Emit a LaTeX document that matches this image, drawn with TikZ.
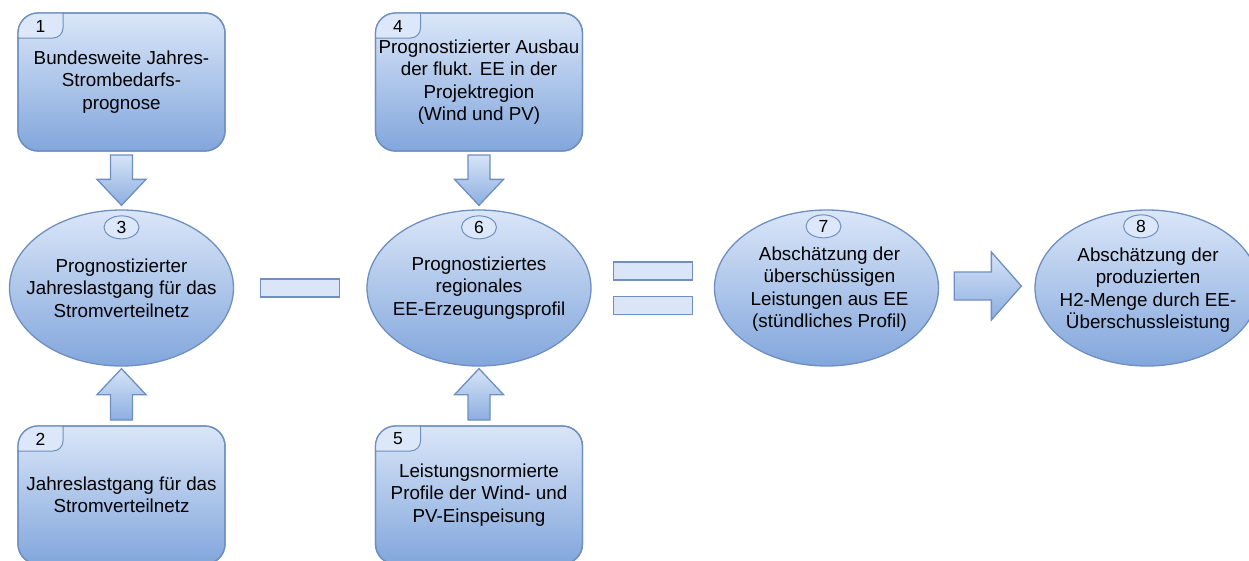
\documentclass[tikz,border=0pt]{standalone}
\usepackage{fontspec}
\setmainfont{Liberation Sans}
\usetikzlibrary{calc,shapes.geometric}
\definecolor{bord}{HTML}{6E8FC0}
\definecolor{gtop}{HTML}{DAE6F8}
\definecolor{gbot}{HTML}{82A6DC}
\definecolor{atop}{HTML}{D6E4F7}
\definecolor{abot}{HTML}{8CAEE0}
\definecolor{tabf}{HTML}{DCE8FA}
\definecolor{barf}{HTML}{DAE6F8}
\newcommand\mainfs{\fontsize{18.8}{22.4}\selectfont}
\newcommand\numfs{\fontsize{17.5}{20}\selectfont}
\newcommand\mytab[2]{%
  \begin{scope}
    \clip[rounded corners=20pt] (#1.north west) rectangle (#1.south east);
    \fill[tabf, rounded corners=10pt] ($(#1.north west)+(-5,25)$) -- ($(#1.north west)+(45,25)$) -- ($(#1.north west)+(45,-5)$) -- ($(#1.north west)+(-5,-5)$) -- cycle;
  \end{scope}
  \draw[bord, line width=1pt, rounded corners=10pt] ($(#1.north west)+(0,25)$) -- ($(#1.north west)+(45,25)$) -- ($(#1.north west)+(45,0)$);
  \draw[bord, line width=1.3pt, rounded corners=20pt] (#1.north west) rectangle (#1.south east);
  \node[font=\numfs, inner sep=0] (#1n) at ($(#1.north west)+(22.5,13)$) {#2};
}
\newcommand\vblock[3]{%
  \shade[arrowsty] let \p1=(#1), \p2=(#2) in
    (\x1-11pt,\y1) -- (\x1+11pt,\y1) -- (\x1+11pt,{\y2+(#3)}) -- (\x1+24.5pt,{\y2+(#3)}) -- (\x1,\y2) -- (\x1-24.5pt,{\y2+(#3)}) -- (\x1-11pt,{\y2+(#3)}) -- cycle;
}
\newcommand\hblock[2]{%
  \shade[arrowsty] let \p1=(#1), \p2=(#2) in
    (\x1,\y1+14pt) -- (\x2-30pt,\y1+14pt) -- (\x2-30pt,\y1+34pt) -- (\x2,\y1) -- (\x2-30pt,\y1-34pt) -- (\x2-30pt,\y1-14pt) -- (\x1,\y1-14pt) -- cycle;
}
\begin{document}
\begin{tikzpicture}[x=1pt,y=-1pt,
  boxsty/.style={rectangle, draw=bord, line width=1.3pt, rounded corners=20pt, outer sep=0pt,
    minimum width=207pt, minimum height=138pt, top color=gtop, bottom color=gbot,
    align=center, inner sep=1pt, font=\mainfs},
  ellsty/.style={ellipse, draw=bord, line width=1.3pt, minimum width=224pt, minimum height=156pt,
    inner sep=0pt, top color=gtop, bottom color=gbot},
  numsty/.style={ellipse, draw=bord, line width=1pt, fill=tabf, minimum width=35pt,
    minimum height=23pt, inner sep=0pt, font=\numfs},
  txtsty/.style={align=center, inner sep=0pt, font=\mainfs},
  barsty/.style={rectangle, draw=bord, line width=1.3pt, fill=barf, minimum width=79pt,
    minimum height=18pt, inner sep=0pt},
  arrowsty/.style={draw=bord, line width=1.3pt, line join=miter, top color=atop, bottom color=abot}]
\useasboundingbox (0,0) rectangle (1249,560);

% boxes
\node[boxsty] (b1) at (121.5,82) {Bundesweite Jahres-\\Strombedarfs-\\prognose};
\node[boxsty] (b2) at (121.5,495) {Jahreslastgang für das\\Stromverteilnetz};
\node[boxsty] (b4) at (479,82) {Prognostizierter Ausbau\\der flukt. EE in der\\Projektregion\\(Wind und PV)};
\node[boxsty] (b5) at (479,495) {Leistungsnormierte\\Profile der Wind- und\\PV-Einspeisung};
\mytab{b1}{1}
\mytab{b2}{2}
\mytab{b4}{4}
\mytab{b5}{5}

% ellipses
\node[ellsty] (e3) at (121.5,288) {};
\node[ellsty] (e6) at (479,288) {};
\node[ellsty] (e7) at (826.5,288) {};
\node[ellsty] (e8) at (1147,288) {};
\node[numsty] (e3n) at ($(e3.north)+(0,18)$) {3};
\node[numsty] (e6n) at ($(e6.north)+(0,18)$) {6};
\node[numsty] (e7n) at ($(e7.north)+(-3,17)$) {7};
\node[numsty] (e8n) at ($(e8.north)+(-6,17)$) {8};
\node[txtsty] (e3t) at (e3.center) {Prognostizierter\\Jahreslastgang für das\\Stromverteilnetz};
\node[txtsty] (e6t) at (e6.center) {Prognostiziertes\\regionales\\EE-Erzeugungsprofil};
\node[txtsty] (e7t) at ($(e7.center)+(3,1)$) {Abschätzung der\\überschüssigen\\Leistungen aus EE\\(stündliches Profil)};
\node[txtsty] (e8t) at ($(e8.center)+(1,2)$) {Abschätzung der\\produzierten\\H2-Menge durch EE-\\Überschussleistung};

% bars
\node[barsty] (r36) at ($(e3.east)!0.5!(e6.west)$) {};
\node[barsty] (r67a) at ($(e6.east)!0.5!(e7.west)+(0,-17)$) {};
\node[barsty] (r67b) at ($(e6.east)!0.5!(e7.west)+(0,17.5)$) {};

% block arrows
\vblock{$(b1.south)+(0,4)$}{$(e3.north)+(0,-4)$}{26pt}
\vblock{$(b4.south)+(0,4)$}{$(e6.north)+(0,-4)$}{26pt}
\vblock{$(b2.north)+(0,-6)$}{$(e3.south)+(0,2)$}{-26pt}
\vblock{$(b5.north)+(0,-6)$}{$(e6.south)+(0,2)$}{-26pt}
\hblock{$(e7.east)+(15,-2)$}{$(e8.west)+(-13,-2)$}
\end{tikzpicture}
\end{document}
